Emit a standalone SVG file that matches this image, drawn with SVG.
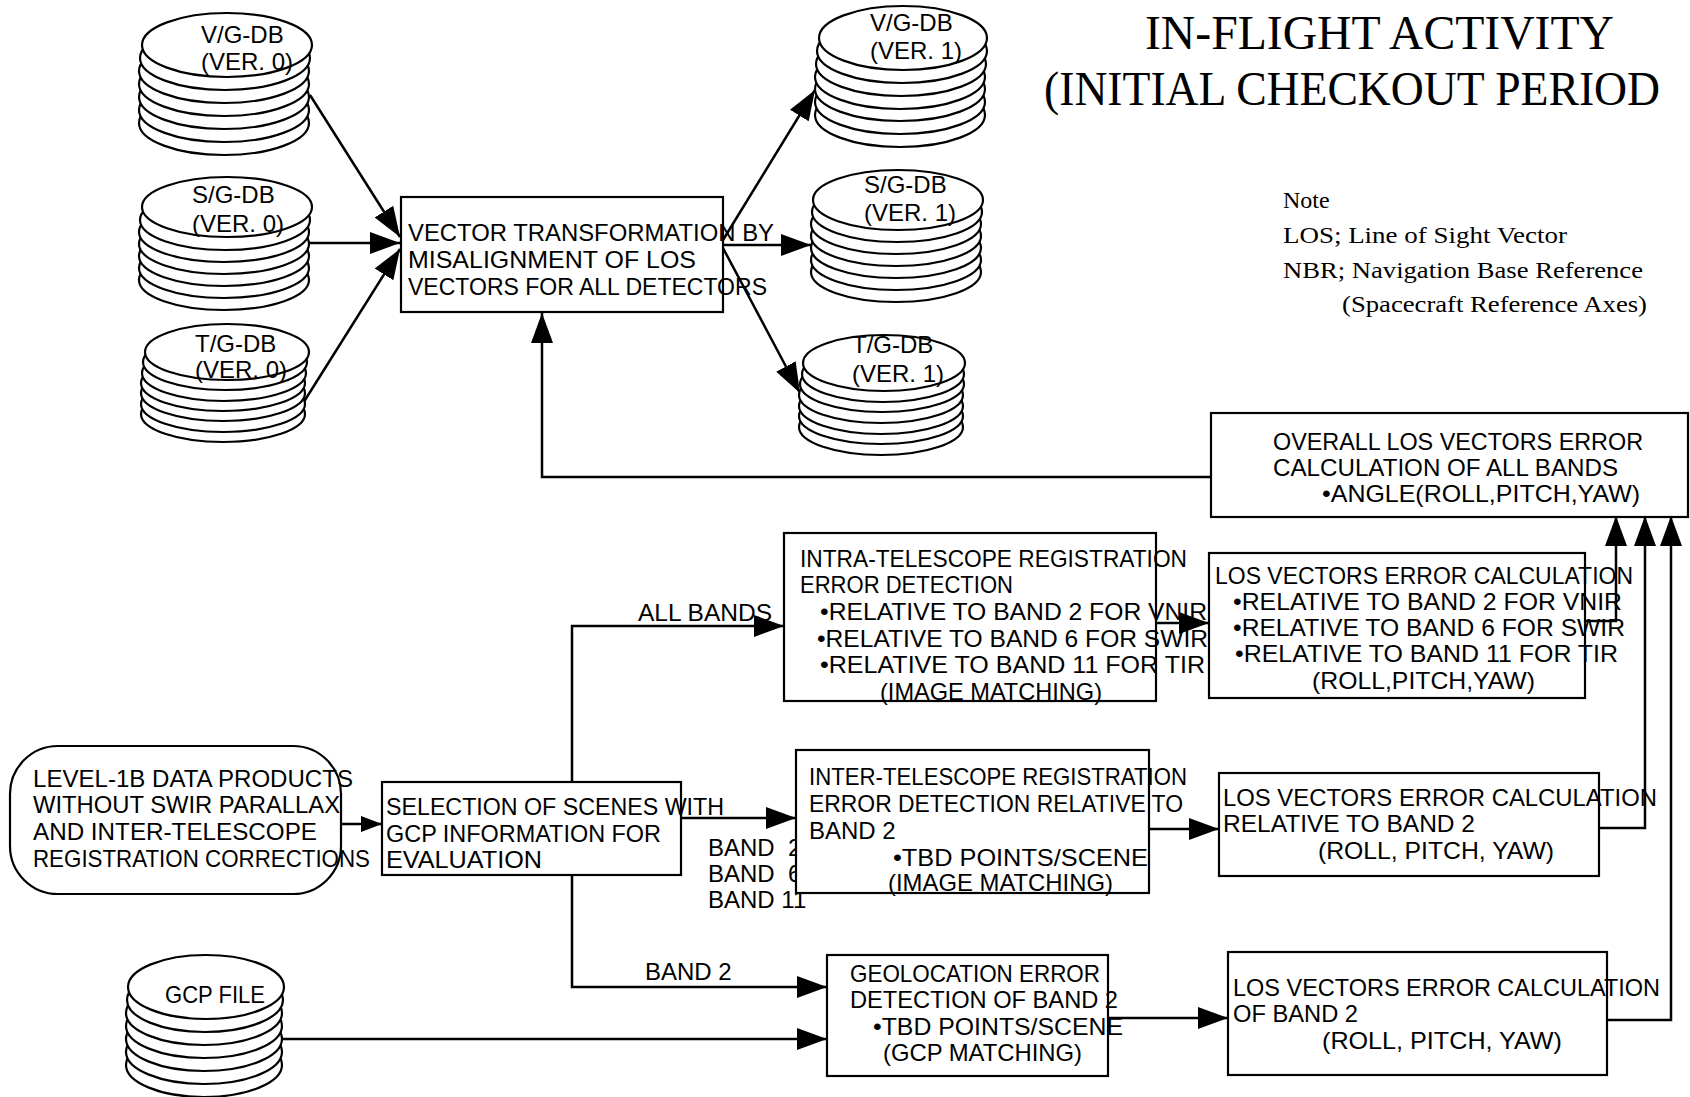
<svg xmlns="http://www.w3.org/2000/svg" width="1690" height="1097" viewBox="0 0 1690 1097">
  <style>
    .box { fill: #fff; stroke: #000; stroke-width: 2.2; }
    .db ellipse { fill: #fff; stroke: #000; stroke-width: 2.2; }
    .t { font-family: "Liberation Sans", Arial, sans-serif; font-size: 24px; fill: #000; }
    .title { font-family: "Liberation Serif", "Times New Roman", serif; font-size: 48px; fill: #000; }
    .note { font-family: "Liberation Serif", "Times New Roman", serif; font-size: 24px; fill: #000; }
    .conn { fill: none; stroke: #000; stroke-width: 2.5; }
    .arr { marker-end: url(#ah); }
    .arrs { marker-end: url(#ahs); }
  </style>
  <defs>
    <marker id="ah" markerUnits="userSpaceOnUse" markerWidth="30" markerHeight="22" refX="30" refY="11" orient="auto">
      <path d="M0,0 L30,11 L0,22 Z" fill="#000"/>
    </marker>
    <marker id="ahs" markerUnits="userSpaceOnUse" markerWidth="21" markerHeight="16" refX="21" refY="8" orient="auto">
      <path d="M0,0 L21,8 L0,16 Z" fill="#000"/>
    </marker>
  </defs>

  <rect width="1690" height="1097" fill="#fff"/>

  <!-- title and notes -->
  <g id="title">
    <text class="title" x="1145" y="49" textLength="469" lengthAdjust="spacingAndGlyphs">IN-FLIGHT ACTIVITY</text>
    <text class="title" x="1044" y="105" textLength="616" lengthAdjust="spacingAndGlyphs">(INITIAL CHECKOUT PERIOD</text>
  </g>
  <g id="notes">
    <text class="note" x="1283" y="208">Note</text>
    <text class="note" x="1283" y="243" textLength="284" lengthAdjust="spacingAndGlyphs">LOS; Line of Sight Vector</text>
    <text class="note" x="1283" y="278" textLength="360" lengthAdjust="spacingAndGlyphs">NBR; Navigation Base Reference</text>
    <text class="note" x="1342" y="312" textLength="305" lengthAdjust="spacingAndGlyphs">(Spacecraft Reference Axes)</text>
  </g>

  <!-- connectors -->
  <g id="connectors">
    <line class="conn arr" x1="310" y1="95" x2="400" y2="237"/>
    <line class="conn arr" x1="308" y1="243" x2="400" y2="243"/>
    <line class="conn arr" x1="300" y1="408" x2="400" y2="249"/>
    <line class="conn arr" x1="723" y1="240" x2="815" y2="90"/>
    <line class="conn arr" x1="723" y1="245" x2="811" y2="245"/>
    <line class="conn arr" x1="723" y1="248" x2="800" y2="393"/>
    <polyline class="conn arr" points="1211,477 542,477 542,313"/>
    <line class="conn arrs" x1="341" y1="824" x2="382" y2="824"/>
    <line class="conn arr" x1="681" y1="818" x2="796" y2="818"/>
    <polyline class="conn arr" points="572,782 572,626 784,626"/>
    <polyline class="conn arr" points="572,875 572,987 827,987"/>
    <line class="conn arr" x1="281" y1="1039" x2="827" y2="1039"/>
    <line class="conn arr" x1="1156" y1="623" x2="1209" y2="623"/>
    <line class="conn arr" x1="1149" y1="829" x2="1219" y2="829"/>
    <line class="conn arr" x1="1108" y1="1018" x2="1228" y2="1018"/>
    <polyline class="conn arr" points="1585,621 1616,621 1616,516"/>
    <polyline class="conn arr" points="1599,828 1645,828 1645,516"/>
    <polyline class="conn arr" points="1607,1020 1671,1020 1671,516"/>
  </g>

  <!-- connector labels -->
  <g id="labels">
    <text class="t" x="638" y="621" textLength="134" lengthAdjust="spacingAndGlyphs">ALL BANDS</text>
    <text class="t" x="708" y="856" xml:space="preserve">BAND  2</text>
    <text class="t" x="708" y="882" xml:space="preserve">BAND  6</text>
    <text class="t" x="708" y="908">BAND 11</text>
    <text class="t" x="645" y="980">BAND 2</text>
  </g>

  <!-- databases, version 0 -->
  <g id="vgdb0" class="db">
    <ellipse cx="224" cy="123" rx="85" ry="32"/>
    <ellipse cx="224" cy="110" rx="85" ry="32"/>
    <ellipse cx="224" cy="97" rx="85" ry="32"/>
    <ellipse cx="224" cy="84" rx="85" ry="32"/>
    <ellipse cx="224" cy="71" rx="85" ry="32"/>
    <ellipse cx="225" cy="58" rx="85" ry="32"/>
    <ellipse cx="227" cy="45" rx="85" ry="32"/>
    <text class="t" x="201" y="43">V/G-DB</text>
    <text class="t" x="201" y="70">(VER. 0)</text>
  </g>
  <g id="sgdb0" class="db">
    <ellipse cx="224" cy="280" rx="85" ry="30"/>
    <ellipse cx="224" cy="268" rx="85" ry="30"/>
    <ellipse cx="224" cy="256" rx="85" ry="30"/>
    <ellipse cx="224" cy="244" rx="85" ry="30"/>
    <ellipse cx="224" cy="232" rx="85" ry="30"/>
    <ellipse cx="225" cy="220" rx="85" ry="30"/>
    <ellipse cx="227" cy="207" rx="85" ry="30"/>
    <text class="t" x="192" y="203">S/G-DB</text>
    <text class="t" x="192" y="232">(VER. 0)</text>
  </g>
  <g id="tgdb0" class="db">
    <ellipse cx="223" cy="414" rx="82" ry="28"/>
    <ellipse cx="223" cy="404" rx="82" ry="28"/>
    <ellipse cx="223" cy="393" rx="82" ry="28"/>
    <ellipse cx="223" cy="383" rx="82" ry="28"/>
    <ellipse cx="224" cy="373" rx="82" ry="28"/>
    <ellipse cx="225" cy="362" rx="82" ry="28"/>
    <ellipse cx="227" cy="352" rx="82" ry="28"/>
    <text class="t" x="195" y="352">T/G-DB</text>
    <text class="t" x="195" y="378">(VER. 0)</text>
  </g>

  <!-- databases, version 1 -->
  <g id="vgdb1" class="db">
    <ellipse cx="900" cy="115" rx="85" ry="32"/>
    <ellipse cx="900" cy="102" rx="85" ry="32"/>
    <ellipse cx="900" cy="89" rx="85" ry="32"/>
    <ellipse cx="900" cy="77" rx="85" ry="32"/>
    <ellipse cx="901" cy="64" rx="85" ry="32"/>
    <ellipse cx="902" cy="51" rx="85" ry="32"/>
    <ellipse cx="903" cy="38" rx="84" ry="32"/>
    <text class="t" x="870" y="31">V/G-DB</text>
    <text class="t" x="870" y="59">(VER. 1)</text>
  </g>
  <g id="sgdb1" class="db">
    <ellipse cx="896" cy="272" rx="85" ry="30"/>
    <ellipse cx="896" cy="260" rx="85" ry="30"/>
    <ellipse cx="896" cy="248" rx="85" ry="30"/>
    <ellipse cx="896" cy="236" rx="85" ry="30"/>
    <ellipse cx="896" cy="224" rx="85" ry="30"/>
    <ellipse cx="897" cy="212" rx="85" ry="30"/>
    <ellipse cx="898" cy="200" rx="85" ry="30"/>
    <text class="t" x="864" y="193">S/G-DB</text>
    <text class="t" x="864" y="221">(VER. 1)</text>
  </g>
  <g id="tgdb1" class="db">
    <ellipse cx="881" cy="427" rx="82" ry="28"/>
    <ellipse cx="881" cy="416" rx="82" ry="28"/>
    <ellipse cx="881" cy="406" rx="82" ry="28"/>
    <ellipse cx="881" cy="395" rx="82" ry="28"/>
    <ellipse cx="882" cy="384" rx="82" ry="28"/>
    <ellipse cx="883" cy="374" rx="81" ry="28"/>
    <ellipse cx="884" cy="363" rx="81" ry="28"/>
    <text class="t" x="852" y="353">T/G-DB</text>
    <text class="t" x="852" y="382">(VER. 1)</text>
  </g>

  <!-- GCP file -->
  <g id="gcpfile" class="db">
    <ellipse cx="204" cy="1065" rx="78" ry="32"/>
    <ellipse cx="204" cy="1052" rx="78" ry="32"/>
    <ellipse cx="204" cy="1039" rx="78" ry="32"/>
    <ellipse cx="204" cy="1026" rx="78" ry="32"/>
    <ellipse cx="204" cy="1013" rx="78" ry="32"/>
    <ellipse cx="205" cy="1000" rx="78" ry="32"/>
    <ellipse cx="206" cy="987" rx="78" ry="32"/>
    <text class="t" x="165" y="1003" textLength="100" lengthAdjust="spacingAndGlyphs">GCP FILE</text>
  </g>

  <!-- process boxes -->
  <g id="vectortransform">
    <rect class="box" x="401" y="197" width="322" height="115"/>
    <text class="t" x="408" y="241" textLength="366" lengthAdjust="spacingAndGlyphs">VECTOR TRANSFORMATION BY</text>
    <text class="t" x="408" y="268" textLength="288" lengthAdjust="spacingAndGlyphs">MISALIGNMENT OF LOS</text>
    <text class="t" x="408" y="295" textLength="359" lengthAdjust="spacingAndGlyphs">VECTORS FOR ALL DETECTORS</text>
  </g>

  <g id="overall">
    <rect class="box" x="1211" y="413" width="477" height="104"/>
    <text class="t" x="1273" y="450" textLength="370" lengthAdjust="spacingAndGlyphs">OVERALL LOS VECTORS ERROR</text>
    <text class="t" x="1273" y="476" textLength="345" lengthAdjust="spacingAndGlyphs">CALCULATION OF ALL BANDS</text>
    <text class="t" x="1322" y="502" textLength="318" lengthAdjust="spacingAndGlyphs">•ANGLE(ROLL,PITCH,YAW)</text>
  </g>

  <g id="losall">
    <rect class="box" x="1209" y="553" width="376" height="145"/>
    <text class="t" x="1215" y="584" textLength="418" lengthAdjust="spacingAndGlyphs">LOS VECTORS ERROR CALCULATION</text>
    <text class="t" x="1233" y="610" textLength="389" lengthAdjust="spacingAndGlyphs">•RELATIVE TO BAND 2 FOR VNIR</text>
    <text class="t" x="1233" y="636" textLength="392" lengthAdjust="spacingAndGlyphs">•RELATIVE TO BAND 6 FOR SWIR</text>
    <text class="t" x="1235" y="662" textLength="383" lengthAdjust="spacingAndGlyphs">•RELATIVE TO BAND 11 FOR TIR</text>
    <text class="t" x="1312" y="689" textLength="223" lengthAdjust="spacingAndGlyphs">(ROLL,PITCH,YAW)</text>
  </g>

  <g id="intra">
    <rect class="box" x="784" y="533" width="372" height="168"/>
    <text class="t" x="800" y="567" textLength="387" lengthAdjust="spacingAndGlyphs">INTRA-TELESCOPE REGISTRATION</text>
    <text class="t" x="800" y="593" textLength="213" lengthAdjust="spacingAndGlyphs">ERROR DETECTION</text>
    <text class="t" x="820" y="620" textLength="387" lengthAdjust="spacingAndGlyphs">•RELATIVE TO BAND 2 FOR VNIR</text>
    <text class="t" x="817" y="647" textLength="391" lengthAdjust="spacingAndGlyphs">•RELATIVE TO BAND 6 FOR SWIR</text>
    <text class="t" x="820" y="673" textLength="385" lengthAdjust="spacingAndGlyphs">•RELATIVE TO BAND 11 FOR TIR</text>
    <text class="t" x="880" y="700" textLength="222" lengthAdjust="spacingAndGlyphs">(IMAGE MATCHING)</text>
  </g>

  <g id="level1b">
    <rect class="box" x="10" y="746" width="331" height="148" rx="48" ry="48"/>
    <text class="t" x="33" y="787" textLength="320" lengthAdjust="spacingAndGlyphs">LEVEL-1B DATA PRODUCTS</text>
    <text class="t" x="33" y="813" textLength="307" lengthAdjust="spacingAndGlyphs">WITHOUT SWIR PARALLAX</text>
    <text class="t" x="33" y="840" textLength="284" lengthAdjust="spacingAndGlyphs">AND INTER-TELESCOPE</text>
    <text class="t" x="33" y="867" textLength="337" lengthAdjust="spacingAndGlyphs">REGISTRATION CORRECTIONS</text>
  </g>

  <g id="selection">
    <rect class="box" x="382" y="782" width="299" height="93"/>
    <text class="t" x="386" y="815" textLength="338" lengthAdjust="spacingAndGlyphs">SELECTION OF SCENES WITH</text>
    <text class="t" x="386" y="842" textLength="275" lengthAdjust="spacingAndGlyphs">GCP INFORMATION FOR</text>
    <text class="t" x="386" y="868" textLength="156" lengthAdjust="spacingAndGlyphs">EVALUATION</text>
  </g>

  <g id="inter">
    <rect class="box" x="796" y="750" width="353" height="143"/>
    <text class="t" x="809" y="785" textLength="378" lengthAdjust="spacingAndGlyphs">INTER-TELESCOPE REGISTRATION</text>
    <text class="t" x="809" y="812" textLength="374" lengthAdjust="spacingAndGlyphs">ERROR DETECTION RELATIVE TO</text>
    <text class="t" x="809" y="839">BAND 2</text>
    <text class="t" x="893" y="866" textLength="255" lengthAdjust="spacingAndGlyphs">•TBD POINTS/SCENE</text>
    <text class="t" x="888" y="891" textLength="225" lengthAdjust="spacingAndGlyphs">(IMAGE MATCHING)</text>
  </g>

  <g id="losrel2">
    <rect class="box" x="1219" y="773" width="380" height="103"/>
    <text class="t" x="1223" y="806" textLength="434" lengthAdjust="spacingAndGlyphs">LOS VECTORS ERROR CALCULATION</text>
    <text class="t" x="1223" y="832" textLength="252" lengthAdjust="spacingAndGlyphs">RELATIVE TO BAND 2</text>
    <text class="t" x="1318" y="859" textLength="236" lengthAdjust="spacingAndGlyphs">(ROLL, PITCH, YAW)</text>
  </g>

  <g id="geolocation">
    <rect class="box" x="827" y="955" width="281" height="121"/>
    <text class="t" x="850" y="982" textLength="250" lengthAdjust="spacingAndGlyphs">GEOLOCATION ERROR</text>
    <text class="t" x="850" y="1008" textLength="268" lengthAdjust="spacingAndGlyphs">DETECTION OF BAND 2</text>
    <text class="t" x="873" y="1035" textLength="250" lengthAdjust="spacingAndGlyphs">•TBD POINTS/SCENE</text>
    <text class="t" x="883" y="1061" textLength="199" lengthAdjust="spacingAndGlyphs">(GCP MATCHING)</text>
  </g>

  <g id="losband2">
    <rect class="box" x="1228" y="952" width="379" height="123"/>
    <text class="t" x="1233" y="996" textLength="427" lengthAdjust="spacingAndGlyphs">LOS VECTORS ERROR CALCULATION</text>
    <text class="t" x="1233" y="1022" textLength="125" lengthAdjust="spacingAndGlyphs">OF BAND 2</text>
    <text class="t" x="1322" y="1049" textLength="240" lengthAdjust="spacingAndGlyphs">(ROLL, PITCH, YAW)</text>
  </g>
</svg>
